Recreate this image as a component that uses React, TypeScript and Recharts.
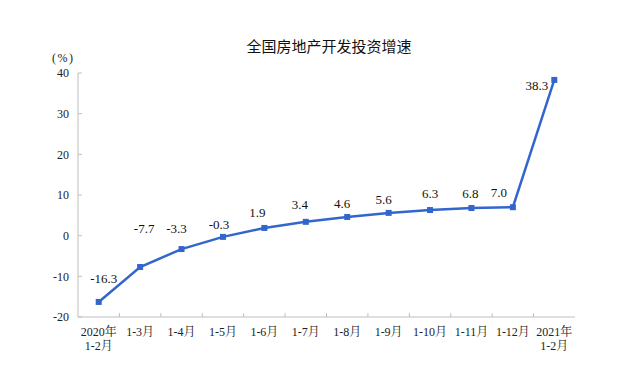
import React from "react";
import {
  LineChart,
  Line,
  XAxis,
  YAxis,
  LabelList,
} from "recharts";

// x categories (two-line labels) and growth rates in %
const categories = [
  "2020年\n1-2月",
  "1-3月",
  "1-4月",
  "1-5月",
  "1-6月",
  "1-7月",
  "1-8月",
  "1-9月",
  "1-10月",
  "1-11月",
  "1-12月",
  "2021年\n1-2月",
];
const growth = [-16.3, -7.7, -3.3, -0.3, 1.9, 3.4, 4.6, 5.6, 6.3, 6.8, 7.0, 38.3];
const yTicks = [-20, -10, 0, 10, 20, 30, 40];

// hand-placed label offsets, like the original
const labelDx = [5, 4, -5, -4, -7, -6, -5, -5, 0, -1, -14, -17];
const labelDy = [-24, -39, -21, -12, -15, -17, -14, -13, -17, -15, -15, 6];

const data = categories.map((c, i) => ({ cat: c, value: growth[i] }));

const BLUE = "#3366CC";
const GREY = "#BFBFBF";
const SERIF = '"Liberation Serif", "Times New Roman", "Noto Serif CJK SC", "Noto Sans CJK SC", serif';

function CatTick(props: any) {
  const { x, y, payload, index } = props;
  const lines = String(payload.value).split("\n");
  const half = payload.offset || 0;
  return (
    <g>
      {index < categories.length - 1 && (
        <line x1={x + half} x2={x + half} y1={y - 8} y2={y - 12} stroke={GREY} />
      )}
      {lines.map((t, i) => (
        <text
          key={i}
          x={x}
          y={y + 11 + i * 14}
          textAnchor="middle"
          fontFamily={SERIF}
          fontSize={12}
          fill="#222"
        >
          {t}
        </text>
      ))}
    </g>
  );
}

function Dot(props: any) {
  const { cx, cy } = props;
  if (cx == null || cy == null) return null;
  return <rect x={cx - 3} y={cy - 3} width={6} height={6} fill={BLUE} />;
}

function ValueLabel(props: any) {
  const { x, y, value, index } = props;
  const anchor = index === growth.length - 1 ? "end" : "middle";
  return (
    <text
      x={x + labelDx[index] + (anchor === "end" ? 11 : 0)}
      y={y + labelDy[index]}
      dy="0.35em"
      textAnchor={anchor}
      fontFamily={SERIF}
      fontSize={13}
      fill="#111"
    >
      {value.toFixed(1)}
    </text>
  );
}

export default function App() {
  return (
    <div
      style={{
        position: "absolute",
        left: 0,
        top: 0,
        width: 632,
        height: 381,
        background: "#fff",
      }}
    >
      {/* Title */}
      <div
        style={{
          position: "absolute",
          top: 35,
          left: 0,
          width: 658,
          textAlign: "center",
          fontFamily: '"Noto Sans CJK SC", sans-serif',
          fontSize: 15,
          color: "#111",
        }}
      >
        全国房地产开发投资增速
      </div>
      <div
        style={{
          position: "absolute",
          top: 51,
          left: 52,
          fontFamily: SERIF,
          fontSize: 12,
          letterSpacing: 1.5,
          lineHeight: "14px",
          color: "#222",
        }}
      >
        (%)
      </div>

      <LineChart
        width={632}
        height={381}
        data={data}
        margin={{ top: 73, right: 57, bottom: 24, left: 0 }}
      >
        <XAxis
          xAxisId="top"
          orientation="top"
          dataKey="cat"
          height={0}
          tick={false}
          tickLine={false}
          axisLine={{ stroke: GREY }}
        />
        <YAxis
          yAxisId="right"
          orientation="right"
          width={0}
          domain={[-20, 40]}
          tick={false}
          tickLine={false}
          axisLine={{ stroke: GREY }}
        />
        <XAxis
          dataKey="cat"
          scale="band"
          height={40}
          interval={0}
          tickLine={false}
          axisLine={{ stroke: GREY }}
          tick={<CatTick />}
        />
        <YAxis
          width={78}
          domain={[-20, 40]}
          ticks={yTicks}
          interval={0}
          tickSize={-4}
          tickMargin={13}
          tickLine={{ stroke: GREY }}
          axisLine={{ stroke: GREY }}
          tick={{ fontFamily: SERIF, fontSize: 12, fill: "#222" }}
        />
        <Line
          type="linear"
          dataKey="value"
          stroke={BLUE}
          strokeWidth={2.5}
          dot={<Dot />}
          activeDot={false}
          isAnimationActive={false}
        >
          <LabelList dataKey="value" content={<ValueLabel />} />
        </Line>
      </LineChart>
    </div>
  );
}
